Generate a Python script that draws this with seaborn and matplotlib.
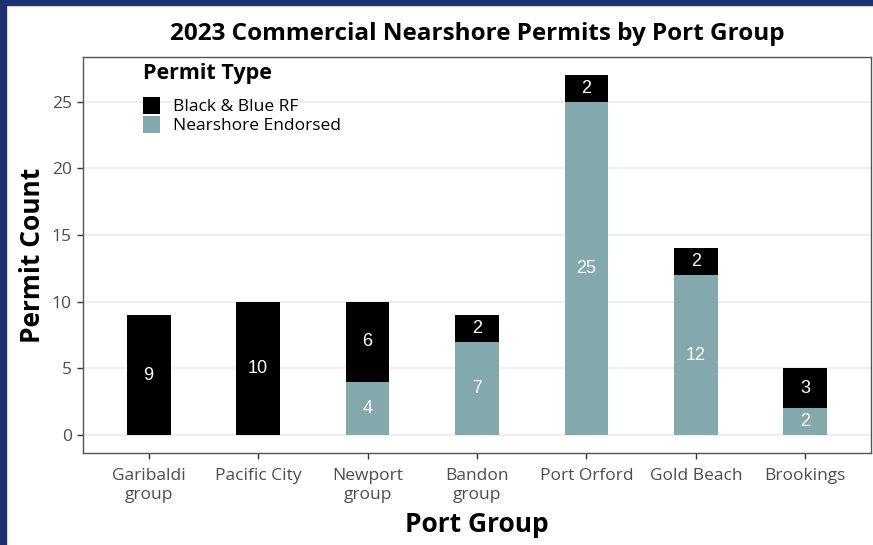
import seaborn as sns
import matplotlib.pyplot as plt
from matplotlib.patches import Rectangle, Patch

ports = ['Garibaldi\ngroup', 'Pacific City', 'Newport\ngroup', 'Bandon\ngroup',
         'Port Orford', 'Gold Beach', 'Brookings']
black_blue = [9, 10, 6, 2, 2, 2, 3]
nearshore = [0, 0, 4, 7, 25, 12, 2]
totals = [a + b for a, b in zip(black_blue, nearshore)]

teal = '#84A9AC'
navy = '#1F3170'

sns.set_theme(style='white')
plt.rcParams['font.family'] = ['Open Sans', 'DejaVu Sans']
plt.rcParams['text.color'] = 'black'
plt.rcParams['axes.labelcolor'] = 'black'

fig = plt.figure(figsize=(8.73, 5.45), dpi=100)
fig.patches.append(Rectangle((0, 0), 6 / 873, 1, transform=fig.transFigure, color=navy, zorder=0))
fig.patches.append(Rectangle((0, 1 - 5 / 545), 1, 5 / 545, transform=fig.transFigure, color=navy, zorder=0))

ax = fig.add_axes([83 / 873, 1 - 453 / 545, 788 / 873, 396 / 545])

sns.barplot(x=ports, y=totals, color='black', width=0.4, saturation=1, ax=ax,
            linewidth=0, edgecolor='none', zorder=2)
sns.barplot(x=ports, y=nearshore, color=teal, width=0.4, saturation=1, ax=ax,
            linewidth=0, edgecolor='none', zorder=3)

lab_font = dict(color='white', fontsize=13, ha='center', va='center', zorder=4,
                family=['Liberation Sans', 'DejaVu Sans'])
for i in range(len(ports)):
    if nearshore[i] > 0:
        ax.text(i, nearshore[i] / 2, str(nearshore[i]), **lab_font)
    if black_blue[i] > 0:
        ax.text(i, nearshore[i] + black_blue[i] / 2, str(black_blue[i]), **lab_font)

ax.set_xlim(-0.6, 6.6)
ax.set_ylim(-1.35, 28.35)
ax.set_yticks([0, 5, 10, 15, 20, 25])
ax.yaxis.grid(True, color='#EBEBEB', linewidth=1.1, zorder=0)
ax.set_axisbelow(True)
for s in ax.spines.values():
    s.set_color('#555555')
    s.set_linewidth(1.0)
ax.tick_params(axis='both', which='major', length=4, width=1, color='#333333',
               labelsize=12.5, labelcolor='#4D4D4D', pad=4, bottom=True, left=True)
ax.tick_params(axis='x', pad=7)
for lab in ax.get_xticklabels():
    lab.set_linespacing(1.2)

ax.set_title('2023 Commercial Nearshore Permits by Port Group', fontsize=17.5,
             fontweight='bold', pad=12, color='black')
ax.set_xlabel('Port Group', fontsize=19, fontweight='bold', labelpad=6)
ax.set_ylabel('Permit Count', fontsize=19, fontweight='bold', labelpad=4)

handles = [Patch(facecolor='black', edgecolor='none', label='Black & Blue RF'),
           Patch(facecolor=teal, edgecolor='none', label='Nearshore Endorsed')]
leg = ax.legend(handles=handles, title='Permit Type', loc='upper left',
                bbox_to_anchor=(0.063, 1.01), frameon=False, fontsize=12.5,
                title_fontproperties={'weight': 'bold', 'size': 15.5},
                handlelength=1.0, handleheight=1.1, handletextpad=0.75,
                labelspacing=0.05, borderaxespad=0.2)
leg._legend_box.align = 'left'
leg._legend_box.sep = 9

fig.savefig('out.png', dpi=100)
